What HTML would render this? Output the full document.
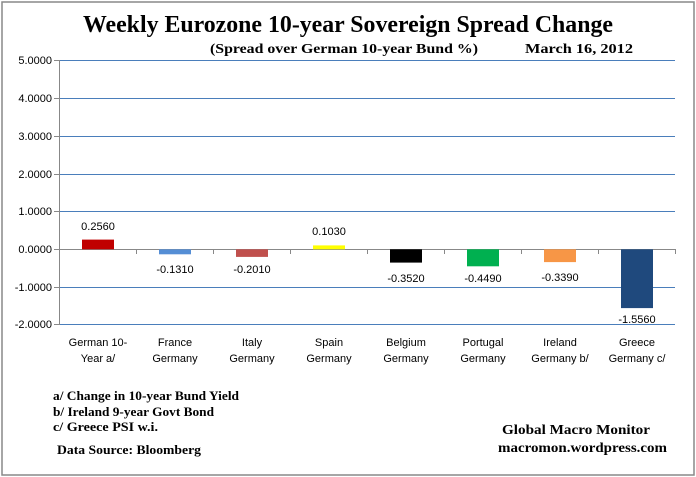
<!DOCTYPE html>
<html><head><meta charset="utf-8"><style>
html,body{margin:0;padding:0;background:#fff;}
svg{display:block;}
.s{font-family:"Liberation Sans",sans-serif;font-size:11px;fill:#000;}
.t{font-family:"Liberation Serif",serif;font-weight:bold;fill:#000;}
</style></head><body>
<svg width="696" height="477" viewBox="0 0 696 477" xmlns="http://www.w3.org/2000/svg">
<rect x="2" y="2" width="692" height="473" fill="#fff" stroke="#888" stroke-width="1.5"/>
<text class="t" x="83" y="32" font-size="24" textLength="530" lengthAdjust="spacingAndGlyphs">Weekly Eurozone 10-year Sovereign Spread Change</text>
<text class="t" x="210" y="53" font-size="14" textLength="268" lengthAdjust="spacingAndGlyphs">(Spread over German 10-year Bund  %)</text>
<text class="t" x="525" y="53" font-size="14" textLength="108" lengthAdjust="spacingAndGlyphs">March 16,  2012</text>
<g stroke="#4A7EBB" stroke-width="1">
<line x1="59" y1="60.5" x2="675" y2="60.5"/>
<line x1="59" y1="98.5" x2="675" y2="98.5"/>
<line x1="59" y1="136.5" x2="675" y2="136.5"/>
<line x1="59" y1="174.5" x2="675" y2="174.5"/>
<line x1="59" y1="211.5" x2="675" y2="211.5"/>
<line x1="59" y1="287.5" x2="675" y2="287.5"/>
<line x1="59" y1="324.5" x2="675" y2="324.5"/>
</g>
<g stroke="#888" stroke-width="1">
<line x1="59.5" y1="60" x2="59.5" y2="325"/>
<line x1="54" y1="60.5" x2="59" y2="60.5"/><line x1="54" y1="98.5" x2="59" y2="98.5"/>
<line x1="54" y1="136.5" x2="59" y2="136.5"/><line x1="54" y1="174.5" x2="59" y2="174.5"/>
<line x1="54" y1="211.5" x2="59" y2="211.5"/><line x1="54" y1="249.5" x2="59" y2="249.5"/>
<line x1="54" y1="287.5" x2="59" y2="287.5"/><line x1="54" y1="324.5" x2="59" y2="324.5"/>
<line x1="59" y1="249.5" x2="675" y2="249.5"/>
<line x1="136.5" y1="249" x2="136.5" y2="254"/><line x1="213.5" y1="249" x2="213.5" y2="254"/>
<line x1="290.5" y1="249" x2="290.5" y2="254"/><line x1="367.5" y1="249" x2="367.5" y2="254"/>
<line x1="444.5" y1="249" x2="444.5" y2="254"/><line x1="521.5" y1="249" x2="521.5" y2="254"/>
<line x1="598.5" y1="249" x2="598.5" y2="254"/><line x1="675.5" y1="249" x2="675.5" y2="254"/>
</g>
<g class="s" text-anchor="end">
<text x="52" y="64">5.0000</text><text x="52" y="102">4.0000</text>
<text x="52" y="140">3.0000</text><text x="52" y="178">2.0000</text>
<text x="52" y="215">1.0000</text><text x="52" y="253">0.0000</text>
<text x="52" y="291">-1.0000</text><text x="52" y="328">-2.0000</text>
</g>
<rect x="82" y="239.6" width="32" height="9.7" fill="#C00000"/>
<rect x="159" y="249.3" width="32" height="5" fill="#558ED5"/>
<rect x="236" y="249.3" width="32" height="7.6" fill="#C0504D"/>
<rect x="313" y="245.4" width="32" height="3.9" fill="#FFFF00"/>
<rect x="390" y="249.3" width="32" height="13.3" fill="#000000"/>
<rect x="467" y="249.3" width="32" height="17" fill="#00B050"/>
<rect x="544" y="249.3" width="32" height="12.8" fill="#F79646"/>
<rect x="621" y="249.3" width="32" height="58.8" fill="#1F497D"/>
<g class="s" text-anchor="middle">
<text x="98" y="230">0.2560</text>
<text x="175" y="273">-0.1310</text>
<text x="252" y="273">-0.2010</text>
<text x="329" y="235">0.1030</text>
<text x="406" y="282">-0.3520</text>
<text x="483" y="282">-0.4490</text>
<text x="560" y="281">-0.3390</text>
<text x="637" y="323">-1.5560</text>
<text x="98" y="346">German 10-</text><text x="98" y="362">Year a/</text>
<text x="175" y="346">France</text><text x="175" y="362">Germany</text>
<text x="252" y="346">Italy</text><text x="252" y="362">Germany</text>
<text x="329" y="346">Spain</text><text x="329" y="362">Germany</text>
<text x="406" y="346">Belgium</text><text x="406" y="362">Germany</text>
<text x="483" y="346">Portugal</text><text x="483" y="362">Germany</text>
<text x="560" y="346">Ireland</text><text x="560" y="362">Germany b/</text>
<text x="637" y="346">Greece</text><text x="637" y="362">Germany c/</text>
</g>
<text class="t" x="53" y="400" font-size="13" textLength="186" lengthAdjust="spacingAndGlyphs">a/ Change in 10-year Bund  Yield</text>
<text class="t" x="53" y="416" font-size="13" textLength="161" lengthAdjust="spacingAndGlyphs">b/ Ireland 9-year Govt Bond</text>
<text class="t" x="53" y="431" font-size="13" textLength="105" lengthAdjust="spacingAndGlyphs">c/ Greece PSI w.i.</text>
<text class="t" x="57" y="454" font-size="13" textLength="144" lengthAdjust="spacingAndGlyphs">Data Source:  Bloomberg</text>
<text class="t" x="502" y="434" font-size="14" textLength="148" lengthAdjust="spacingAndGlyphs">Global Macro Monitor</text>
<text class="t" x="498" y="452" font-size="14" textLength="169" lengthAdjust="spacingAndGlyphs">macromon.wordpress.com</text>
</svg>
</body></html>
